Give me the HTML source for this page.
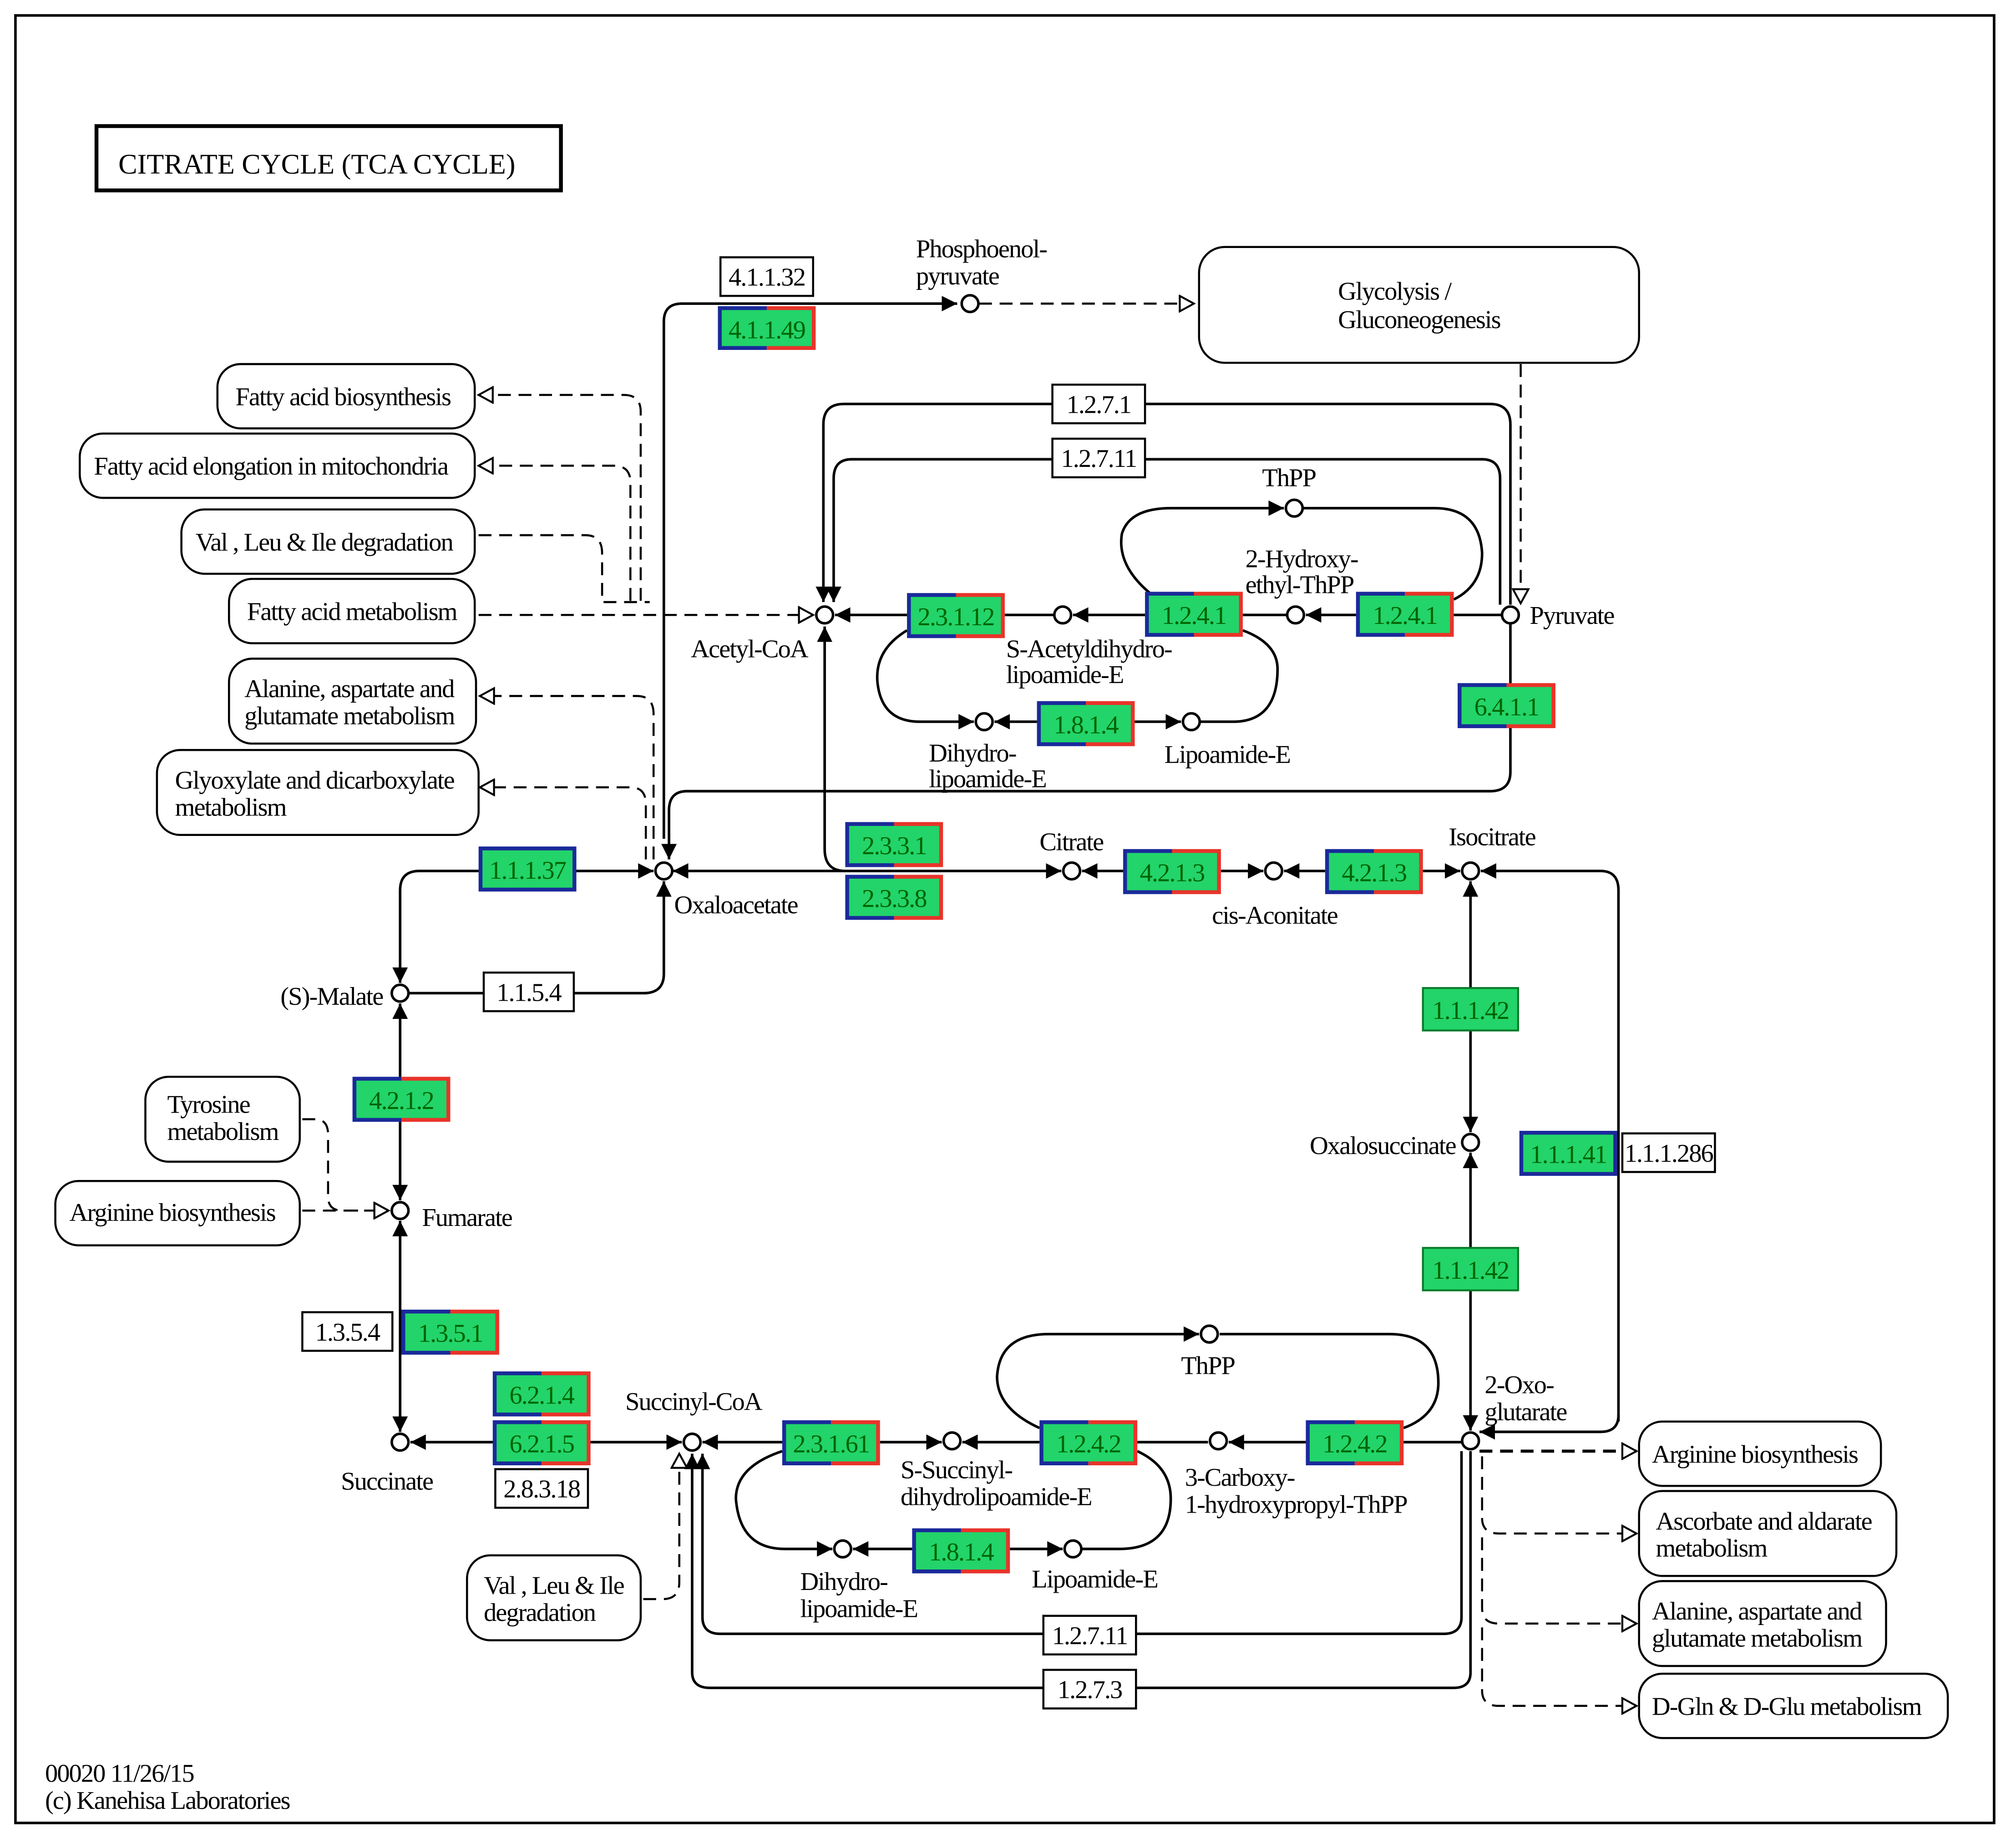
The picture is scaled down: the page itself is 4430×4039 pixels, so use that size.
<!DOCTYPE html>
<html><head><meta charset="utf-8"><style>
html,body{margin:0;padding:0;background:#fff}
svg{display:block}
text{font-family:"Liberation Serif",serif;font-size:20px;letter-spacing:-0.7px;fill:#000}
.e{fill:#006400;text-anchor:middle;font-size:20px}
.w{text-anchor:middle;font-size:20px}
.l{fill:none;stroke:#000;stroke-width:2}
.d{fill:none;stroke:#000;stroke-width:1.6;stroke-dasharray:10,6}
.c{fill:#fff;stroke:#000;stroke-width:2}
.m{fill:#fff;stroke:#000;stroke-width:1.6}
</style></head><body>
<svg width="4430" height="4039" viewBox="0 0 1567 1428.7" preserveAspectRatio="none" xmlns="http://www.w3.org/2000/svg">
<defs>
<marker id="a" markerUnits="userSpaceOnUse" markerWidth="14" markerHeight="14" refX="12" refY="7" orient="auto-start-reverse"><path d="M0,1 L12,7 L0,13 z" fill="#000"/></marker>
<marker id="o" markerUnits="userSpaceOnUse" markerWidth="14" markerHeight="14" refX="12" refY="7" orient="auto-start-reverse"><path d="M1,1 L12,7 L1,13 z" fill="#fff" stroke="#000" stroke-width="1.5"/></marker>
</defs>
<rect x="12" y="12" width="1538" height="1405" fill="#fff" stroke="#000" stroke-width="2"/>
<rect x="75" y="98" width="361" height="50" fill="#fff" stroke="#000" stroke-width="3"/>
<text x="92" y="135" style="font-size:22px;letter-spacing:0">CITRATE  CYCLE  (TCA CYCLE)</text>

<path class="l" d="M516,652 L516,250 Q516,236 530,236 L744,236" marker-end="url(#a)"/>
<path class="l" d="M1174,470 L1174,330 Q1174,314 1158,314 L656,314 Q640,314 640,330 L640,468" marker-end="url(#a)"/>
<path class="l" d="M1166,470 L1166,372 Q1166,357 1152,357 L662,357 Q648,357 648,372 L648,468" marker-end="url(#a)"/>
<path class="l" d="M1130,478 L1167,478"/>
<path class="l" d="M1054,478 L1015,478" marker-end="url(#a)"/>
<path class="l" d="M966,478 L1000,478"/>
<path class="l" d="M890,478 L834,478" marker-end="url(#a)"/>
<path class="l" d="M781,478 L819,478"/>
<path class="l" d="M705,478 L649,478" marker-end="url(#a)"/>
<path class="l" d="M895,462 Q868,440 872,415 Q878,395 910,395 L998,395" marker-end="url(#a)"/>
<path class="l" d="M1013,395 L1115,395 Q1150,395 1152,430 Q1152,455 1130,466"/>
<path class="l" d="M705,490 Q680,505 682,530 Q685,561 715,561 L757,561" marker-end="url(#a)"/>
<path class="l" d="M806,561 L773,561" marker-end="url(#a)"/>
<path class="l" d="M882,561 L918,561" marker-end="url(#a)"/>
<path class="l" d="M933,561 L960,561 Q993,560 993,520 Q993,500 966,490"/>
<path class="l" d="M1174,485 L1174,600 Q1174,615 1158,615 L534,615 Q520,615 520,630 L520,668" marker-end="url(#a)"/>
<path class="l" d="M825,677 L523,677" marker-start="url(#a)" marker-end="url(#a)"/>
<path class="l" d="M657,677 Q641,677 641,660 L641,487" marker-end="url(#a)"/>
<path class="l" d="M873,677 L841,677" marker-end="url(#a)"/>
<path class="l" d="M949,677 L982,677" marker-end="url(#a)"/>
<path class="l" d="M1030,677 L998,677" marker-end="url(#a)"/>
<path class="l" d="M1106,677 L1135,677" marker-end="url(#a)"/>
<path class="l" d="M1258,1105 L1258,692 Q1258,677 1244,677 L1151,677" marker-end="url(#a)"/>
<path class="l" d="M1258,1100 Q1258,1113 1244,1113 L1150,1113" marker-end="url(#a)"/>
<path class="l" d="M1143,685 L1143,880" marker-start="url(#a)" marker-end="url(#a)"/>
<path class="l" d="M1143,896 L1143,1112" marker-start="url(#a)" marker-end="url(#a)"/>
<path class="l" d="M311,764 L311,692 Q311,677 326,677 L508,677" marker-start="url(#a)" marker-end="url(#a)"/>
<path class="l" d="M318,772 L500,772 Q516,772 516,757 L516,685" marker-end="url(#a)"/>
<path class="l" d="M311,780 L311,933" marker-start="url(#a)" marker-end="url(#a)"/>
<path class="l" d="M311,949 L311,1113" marker-start="url(#a)" marker-end="url(#a)"/>
<path class="l" d="M319,1121 L530,1121" marker-start="url(#a)" marker-end="url(#a)"/>
<path class="l" d="M608,1121 L546,1121" marker-end="url(#a)"/>
<path class="l" d="M684,1121 L732,1121" marker-end="url(#a)"/>
<path class="l" d="M808,1121 L748,1121" marker-end="url(#a)"/>
<path class="l" d="M884,1121 L939,1121"/>
<path class="l" d="M1015,1121 L955,1121" marker-end="url(#a)"/>
<path class="l" d="M1091,1121 L1136,1121"/>
<path class="l" d="M808,1110 Q775,1095 775,1070 Q777,1037 815,1037 L932,1037" marker-end="url(#a)"/>
<path class="l" d="M948,1037 L1080,1037 Q1118,1037 1118,1075 Q1118,1100 1091,1110"/>
<path class="l" d="M608,1128 Q572,1140 572,1165 Q575,1204 610,1204 L647,1204" marker-end="url(#a)"/>
<path class="l" d="M709,1204 L663,1204" marker-end="url(#a)"/>
<path class="l" d="M785,1204 L826,1204" marker-end="url(#a)"/>
<path class="l" d="M841,1204 L870,1204 Q910,1204 910,1165 Q910,1140 884,1128"/>
<path class="l" d="M1136,1128 L1136,1257 Q1136,1270 1122,1270 L560,1270 Q546,1270 546,1257 L546,1130" marker-end="url(#a)"/>
<path class="l" d="M1143,1128 L1143,1300 Q1143,1312 1130,1312 L552,1312 Q538,1312 538,1300 L538,1130" marker-end="url(#a)"/>

<path class="d" d="M761,236 L928,236" marker-end="url(#o)"/>
<path class="d" d="M1182,283 L1182,469" marker-end="url(#o)"/>
<path class="d" d="M498,467 L498,320 Q498,307 485,307 L372,307" marker-end="url(#o)"/>
<path class="d" d="M490,467 L490,375 Q490,362 477,362 L372,362" marker-end="url(#o)"/>
<path class="d" d="M372,416 L455,416 Q468,416 468,430 L468,468 L505,468"/>
<path class="d" d="M372,478 L632,478" marker-end="url(#o)"/>
<path class="d" d="M508,668 L508,555 Q508,541 495,541 L373,541" marker-end="url(#o)"/>
<path class="d" d="M502,668 L502,625 Q502,612 490,612 L373,612" marker-end="url(#o)"/>
<path class="d" d="M235,870 L245,870 Q255,870 255,882 L255,930 Q255,941 266,941 L302,941" marker-end="url(#o)"/>
<path class="d" d="M235,941 L302,941" marker-end="url(#o)"/>
<path class="d" d="M500,1243 L515,1243 Q528,1243 528,1230 L528,1130" marker-end="url(#o)"/>
<path class="d" d="M1150,1128 L1272,1128" marker-end="url(#o)" style="stroke-width:2.4"/>
<path class="d" d="M1152,1132 L1152,1180 Q1152,1192 1165,1192 L1272,1192" marker-end="url(#o)"/>
<path class="d" d="M1152,1195 L1152,1250 Q1152,1262 1165,1262 L1272,1262" marker-end="url(#o)"/>
<path class="d" d="M1152,1265 L1152,1314 Q1152,1326 1165,1326 L1272,1326" marker-end="url(#o)"/>

<g class="c">
<circle cx="754" cy="236" r="6.5"/><circle cx="641" cy="478" r="6.5"/><circle cx="826" cy="478" r="6.5"/>
<circle cx="1007" cy="478" r="6.5"/><circle cx="1174" cy="478" r="6.5"/><circle cx="1006" cy="395" r="6.5"/>
<circle cx="765" cy="561" r="6.5"/><circle cx="926" cy="561" r="6.5"/><circle cx="516" cy="677" r="6.5"/>
<circle cx="833" cy="677" r="6.5"/><circle cx="990" cy="677" r="6.5"/><circle cx="1143" cy="677" r="6.5"/>
<circle cx="311" cy="772" r="6.5"/><circle cx="1143" cy="888" r="6.5"/><circle cx="311" cy="941" r="6.5"/>
<circle cx="311" cy="1121" r="6.5"/><circle cx="538" cy="1121" r="6.5"/><circle cx="740" cy="1120" r="6.5"/>
<circle cx="947" cy="1120" r="6.5"/><circle cx="1143" cy="1120" r="6.5"/><circle cx="940" cy="1037" r="6.5"/>
<circle cx="655" cy="1204" r="6.5"/><circle cx="834" cy="1204" r="6.5"/>
</g>

<g class="m">
<rect x="932" y="192" width="342" height="90" rx="20"/>
<rect x="169" y="283" width="200" height="50" rx="18"/>
<rect x="62" y="337" width="307" height="50" rx="18"/>
<rect x="141" y="396" width="228" height="50" rx="18"/>
<rect x="178" y="450" width="191" height="50" rx="18"/>
<rect x="178" y="512" width="192" height="66" rx="18"/>
<rect x="122" y="583" width="250" height="66" rx="18"/>
<rect x="113" y="837" width="120" height="66" rx="18"/>
<rect x="43" y="918" width="190" height="50" rx="18"/>
<rect x="363" y="1209" width="135" height="66" rx="18"/>
<rect x="1274" y="1105" width="188" height="50" rx="18"/>
<rect x="1274" y="1159" width="200" height="66" rx="18"/>
<rect x="1274" y="1229" width="192" height="66" rx="18"/>
<rect x="1274" y="1301" width="240" height="50" rx="18"/>
</g>
<text x="1040" y="233">Glycolysis /</text><text x="1040" y="255">Gluconeogenesis</text>
<text x="183" y="315">Fatty acid biosynthesis</text>
<text x="73" y="369">Fatty acid elongation in mitochondria</text>
<text x="152" y="428">Val , Leu &amp; Ile degradation</text>
<text x="192" y="482">Fatty acid metabolism</text>
<text x="190" y="542">Alanine, aspartate and</text><text x="190" y="563">glutamate metabolism</text>
<text x="136" y="613">Glyoxylate and dicarboxylate</text><text x="136" y="634">metabolism</text>
<text x="130" y="865">Tyrosine</text><text x="130" y="886">metabolism</text>
<text x="54" y="949">Arginine biosynthesis</text>
<text x="376" y="1239">Val , Leu &amp; Ile</text><text x="376" y="1260">degradation</text>
<text x="1284" y="1137">Arginine biosynthesis</text>
<text x="1287" y="1189">Ascorbate and aldarate</text><text x="1287" y="1210">metabolism</text>
<text x="1284" y="1259">Alanine, aspartate and</text><text x="1284" y="1280">glutamate metabolism</text>
<text x="1284" y="1333">D-Gln &amp; D-Glu metabolism</text>

<g fill="#fff" stroke="#000" stroke-width="1.6">
<rect x="560" y="200" width="72" height="30"/><rect x="818" y="299" width="72" height="30"/>
<rect x="818" y="341" width="72" height="30"/><rect x="376" y="756" width="70" height="30"/>
<rect x="1261" y="881" width="72" height="30"/><rect x="235" y="1020" width="70" height="30"/>
<rect x="385" y="1142" width="72" height="30"/><rect x="811" y="1256" width="72" height="30"/>
<rect x="811" y="1298" width="72" height="30"/>
</g>
<text class="w" x="596" y="222">4.1.1.32</text><text class="w" x="854" y="321">1.2.7.1</text>
<text class="w" x="854" y="363">1.2.7.11</text><text class="w" x="411" y="778">1.1.5.4</text>
<text class="w" x="1297" y="903">1.1.1.286</text><text class="w" x="270" y="1042">1.3.5.4</text>
<text class="w" x="421" y="1164">2.8.3.18</text><text class="w" x="847" y="1278">1.2.7.11</text>
<text class="w" x="847" y="1320">1.2.7.3</text>

<rect x="1106" y="768" width="74" height="33" fill="#22d46a" stroke="#0a7a2a" stroke-width="1.5"/>
<rect x="1106" y="970" width="74" height="33" fill="#22d46a" stroke="#0a7a2a" stroke-width="1.5"/>
<text class="e" x="1143" y="792">1.1.1.42</text><text class="e" x="1143" y="994">1.1.1.42</text>

<g>
<rect x="558" y="238" width="38" height="34" fill="#1a2a9a"/><rect x="596" y="238" width="38" height="34" fill="#e8342a"/><rect x="561" y="241" width="70" height="28" fill="#22d46a"/>
<rect x="705" y="461" width="38" height="35" fill="#1a2a9a"/><rect x="743" y="461" width="38" height="35" fill="#e8342a"/><rect x="708" y="464" width="70" height="29" fill="#22d46a"/>
<rect x="890" y="460" width="38" height="35" fill="#1a2a9a"/><rect x="928" y="460" width="38" height="35" fill="#e8342a"/><rect x="893" y="463" width="70" height="29" fill="#22d46a"/>
<rect x="1054" y="460" width="38" height="35" fill="#1a2a9a"/><rect x="1092" y="460" width="38" height="35" fill="#e8342a"/><rect x="1057" y="463" width="70" height="29" fill="#22d46a"/>
<rect x="1133" y="531" width="38" height="35" fill="#1a2a9a"/><rect x="1171" y="531" width="38" height="35" fill="#e8342a"/><rect x="1136" y="534" width="70" height="29" fill="#22d46a"/>
<rect x="806" y="545" width="38" height="35" fill="#1a2a9a"/><rect x="844" y="545" width="38" height="35" fill="#e8342a"/><rect x="809" y="548" width="70" height="29" fill="#22d46a"/>
<rect x="657" y="639" width="38" height="35" fill="#1a2a9a"/><rect x="695" y="639" width="38" height="35" fill="#e8342a"/><rect x="660" y="642" width="70" height="29" fill="#22d46a"/>
<rect x="657" y="680" width="38" height="35" fill="#1a2a9a"/><rect x="695" y="680" width="38" height="35" fill="#e8342a"/><rect x="660" y="683" width="70" height="29" fill="#22d46a"/>
<rect x="873" y="660" width="38" height="35" fill="#1a2a9a"/><rect x="911" y="660" width="38" height="35" fill="#e8342a"/><rect x="876" y="663" width="70" height="29" fill="#22d46a"/>
<rect x="1030" y="660" width="38" height="35" fill="#1a2a9a"/><rect x="1068" y="660" width="38" height="35" fill="#e8342a"/><rect x="1033" y="663" width="70" height="29" fill="#22d46a"/>
<rect x="372" y="658" width="76" height="35" fill="#1a2a9a"/><rect x="375" y="661" width="70" height="29" fill="#22d46a"/>
<rect x="1181" y="879" width="76" height="35" fill="#1a2a9a"/><rect x="1184" y="882" width="70" height="29" fill="#22d46a"/>
<rect x="274" y="837" width="38" height="35" fill="#1a2a9a"/><rect x="312" y="837" width="38" height="35" fill="#e8342a"/><rect x="277" y="840" width="70" height="29" fill="#22d46a"/>
<rect x="312" y="1018" width="38" height="35" fill="#1a2a9a"/><rect x="350" y="1018" width="38" height="35" fill="#e8342a"/><rect x="315" y="1021" width="70" height="29" fill="#22d46a"/>
<rect x="383" y="1066" width="38" height="35" fill="#1a2a9a"/><rect x="421" y="1066" width="38" height="35" fill="#e8342a"/><rect x="386" y="1069" width="70" height="29" fill="#22d46a"/>
<rect x="383" y="1104" width="38" height="35" fill="#1a2a9a"/><rect x="421" y="1104" width="38" height="35" fill="#e8342a"/><rect x="386" y="1107" width="70" height="29" fill="#22d46a"/>
<rect x="608" y="1104" width="38" height="35" fill="#1a2a9a"/><rect x="646" y="1104" width="38" height="35" fill="#e8342a"/><rect x="611" y="1107" width="70" height="29" fill="#22d46a"/>
<rect x="808" y="1104" width="38" height="35" fill="#1a2a9a"/><rect x="846" y="1104" width="38" height="35" fill="#e8342a"/><rect x="811" y="1107" width="70" height="29" fill="#22d46a"/>
<rect x="1015" y="1104" width="38" height="35" fill="#1a2a9a"/><rect x="1053" y="1104" width="38" height="35" fill="#e8342a"/><rect x="1018" y="1107" width="70" height="29" fill="#22d46a"/>
<rect x="709" y="1188" width="38" height="35" fill="#1a2a9a"/><rect x="747" y="1188" width="38" height="35" fill="#e8342a"/><rect x="712" y="1191" width="70" height="29" fill="#22d46a"/>
</g>
<text class="e" x="596" y="263">4.1.1.49</text>
<text class="e" x="743" y="486">2.3.1.12</text>
<text class="e" x="928" y="485">1.2.4.1</text>
<text class="e" x="1092" y="485">1.2.4.1</text>
<text class="e" x="1171" y="556">6.4.1.1</text>
<text class="e" x="844" y="570">1.8.1.4</text>
<text class="e" x="695" y="664">2.3.3.1</text>
<text class="e" x="695" y="705">2.3.3.8</text>
<text class="e" x="911" y="685">4.2.1.3</text>
<text class="e" x="1068" y="685">4.2.1.3</text>
<text class="e" x="410" y="683">1.1.1.37</text>
<text class="e" x="1219" y="904">1.1.1.41</text>
<text class="e" x="312" y="862">4.2.1.2</text>
<text class="e" x="350" y="1043">1.3.5.1</text>
<text class="e" x="421" y="1091">6.2.1.4</text>
<text class="e" x="421" y="1129">6.2.1.5</text>
<text class="e" x="646" y="1129">2.3.1.61</text>
<text class="e" x="846" y="1129">1.2.4.2</text>
<text class="e" x="1053" y="1129">1.2.4.2</text>
<text class="e" x="747" y="1213">1.8.1.4</text>

<text x="712" y="200">Phosphoenol-</text><text x="712" y="221">pyruvate</text>
<text x="981" y="378">ThPP</text>
<text x="968" y="441">2-Hydroxy-</text><text x="968" y="461">ethyl-ThPP</text>
<text x="1189" y="485">Pyruvate</text>
<text x="537" y="511">Acetyl-CoA</text>
<text x="782" y="511">S-Acetyldihydro-</text><text x="782" y="531">lipoamide-E</text>
<text x="722" y="592">Dihydro-</text><text x="722" y="612">lipoamide-E</text>
<text x="905" y="593">Lipoamide-E</text>
<text x="808" y="661">Citrate</text>
<text x="1126" y="657">Isocitrate</text>
<text x="942" y="718">cis-Aconitate</text>
<text x="524" y="710">Oxaloacetate</text>
<text x="218" y="781">(S)-Malate</text>
<text x="1018" y="897">Oxalosuccinate</text>
<text x="328" y="953">Fumarate</text>
<text x="265" y="1158">Succinate</text>
<text x="486" y="1096">Succinyl-CoA</text>
<text x="918" y="1068">ThPP</text>
<text x="1154" y="1083">2-Oxo-</text><text x="1154" y="1104">glutarate</text>
<text x="700" y="1149">S-Succinyl-</text><text x="700" y="1170">dihydrolipoamide-E</text>
<text x="921" y="1155">3-Carboxy-</text><text x="921" y="1176">1-hydroxypropyl-ThPP</text>
<text x="622" y="1236">Dihydro-</text><text x="622" y="1257">lipoamide-E</text>
<text x="802" y="1234">Lipoamide-E</text>
<text x="35" y="1385">00020 11/26/15</text>
<text x="35" y="1406">(c) Kanehisa Laboratories</text>
</svg>
</body></html>
